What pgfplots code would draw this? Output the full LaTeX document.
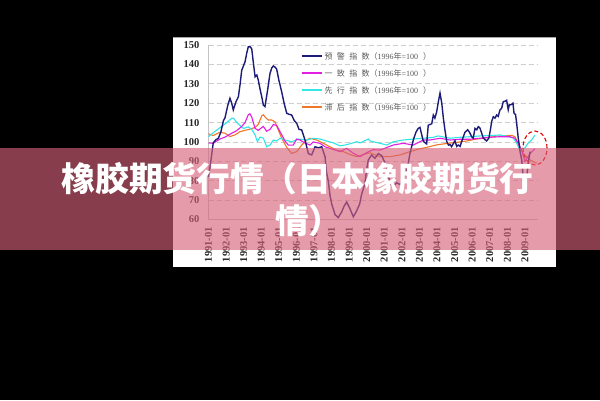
\documentclass[border=0pt]{standalone}
\usepackage{fontspec}
\setmainfont{Liberation Serif}
\newfontfamily\cjk{Noto Sans CJK SC}
\usepackage{pgfplots}
\pgfplotsset{compat=1.18}
\definecolor{navyc}{RGB}{28,28,120}
\definecolor{magc}{RGB}{225,30,225}
\definecolor{cyanc}{RGB}{50,230,230}
\definecolor{orangec}{RGB}{240,120,40}
\definecolor{bandc}{RGB}{215,98,120}
\definecolor{gridc}{RGB}{205,205,205}
\definecolor{axc}{RGB}{195,195,195}
\newcommand{\lgtext}[4]{{\cjk #1\hspace{4.3pt}#2\hspace{4.3pt}#3\hspace{4.3pt}#4（}1996{\cjk 年}=100\hspace{5pt}{\cjk ）}}
\begin{document}
\begin{tikzpicture}
\fill[black] (0pt,0pt) rectangle (600pt,400pt);
\fill[white] (173pt,133pt) rectangle (556pt,363pt);
\draw[gray!70, line width=0.8pt] (173pt,363pt) -- (556pt,363pt);
\begin{axis}[
  at={(208.5pt,180.5pt)}, anchor=south west,
  scale only axis, width=329.6pt, height=174.5pt,
  xmin=1991, xmax=2009.75, ymin=60, ymax=150,
  axis x line*=bottom, axis y line*=left,
  axis line style={axc, line width=0.6pt, -},
  major tick length=0pt,
  ytick={60,70,...,150},
  xtick={1991,...,2009},
  xticklabels={1991-01,1992-01,1993-01,1994-01,1995-01,1996-01,1997-01,1998-01,1999-01,2000-01,2001-01,2002-01,2003-01,2004-01,2005-01,2006-01,2007-01,2008-01,2009-01},
  /pgf/number format/assume math mode=true,
  ymajorgrids, grid style={gridc, dash pattern=on 5pt off 3pt, line width=0.6pt},
  yticklabel style={font=\bfseries\fontsize{10.5}{11}\selectfont, text=black!85, anchor=east, inner sep=0pt, xshift=-9pt},
  xticklabel style={font=\bfseries\fontsize{10.5}{11}\selectfont, text=black!85, rotate=90, anchor=east, inner sep=0pt},
  xticklabel shift=7.5pt,
  clip=false,
]
\addplot[orangec, line width=1.1pt] coordinates {(1991.0,104.2) (1991.27,103.3) (1991.65,105) (1991.94,104.5) (1992.22,102.8) (1992.5,103.6) (1992.79,105.3) (1993.08,106) (1993.36,106.6) (1993.65,107.5) (1993.83,109) (1994.03,113.5) (1994.12,114) (1994.21,113) (1994.4,111.3) (1994.6,111.3) (1994.78,110.4) (1994.97,106.2) (1995.16,102) (1995.45,97.2) (1995.73,94.1) (1996.02,95) (1996.3,98.4) (1996.59,101) (1996.77,101.9) (1997.15,101) (1997.53,99.3) (1997.91,97.5) (1998.29,95.8) (1998.67,95) (1999.05,93.5) (1999.43,92.4) (1999.8,93.5) (2000.19,94.4) (2000.76,92.4) (2001.32,92.4) (2001.89,93.3) (2002.46,95) (2003.03,96.5) (2003.41,97.2) (2003.98,98.5) (2004.55,99.2) (2005.12,99.8) (2005.69,100.5) (2006.26,101.5) (2006.82,102.2) (2007.39,103) (2007.96,103.2) (2008.25,103.4) (2008.43,102.7) (2008.62,99.3) (2008.82,95.5) (2008.91,94.1) (2009.29,90.7) (2009.67,89)};
\addplot[cyanc, line width=1.1pt] coordinates {(1991.0,102.7) (1991.27,104.8) (1991.75,108) (1992.04,110) (1992.32,112.2) (1992.41,112.3) (1992.5,111.3) (1992.7,109.2) (1992.98,107) (1993.08,107.2) (1993.26,107.8) (1993.46,106.5) (1993.65,103.6) (1993.78,100.2) (1993.93,102.5) (1994.12,102) (1994.31,97.5) (1994.5,98.4) (1994.69,101) (1994.88,100.5) (1995.07,101.9) (1995.35,101) (1995.73,100.1) (1996.11,101.5) (1996.59,101) (1996.96,101.9) (1997.34,101.5) (1997.72,100.5) (1998.1,99.5) (1998.48,98) (1998.76,98.4) (1999.15,99.3) (1999.43,100.1) (1999.62,99.5) (2000.09,101.5) (2000.19,100.5) (2000.76,99.3) (2001.14,98.4) (2001.51,100.1) (2002.08,101) (2002.65,101.5) (2003.22,101.9) (2003.79,102.4) (2004.07,103.1) (2004.74,101.9) (2005.31,102.4) (2005.87,102.7) (2006.44,103.1) (2007.01,103.3) (2007.58,103.6) (2007.96,103) (2008.34,102) (2008.53,99.3) (2008.72,95.8) (2009.0,96.9) (2009.19,99.5) (2009.38,101) (2009.57,103.6)};
\addplot[magc, line width=1.1pt] coordinates {(1991.0,99.5) (1991.27,99.3) (1991.65,101.5) (1991.94,102.5) (1992.32,104.5) (1992.6,105.8) (1992.89,108) (1993.08,110) (1993.26,114) (1993.36,114.5) (1993.46,112.8) (1993.65,107) (1993.83,106) (1994.12,108) (1994.31,105.5) (1994.5,106.5) (1994.69,109) (1994.88,108.5) (1995.07,105.3) (1995.35,100.5) (1995.54,98.4) (1995.82,98.4) (1996.02,101.5) (1996.2,101) (1996.49,99.5) (1996.77,98.4) (1996.96,100) (1997.34,99.3) (1997.63,97.5) (1997.91,96.7) (1998.48,95) (1998.86,96.7) (1999.24,94.1) (1999.62,92.4) (2000.0,94.5) (2000.37,96) (2000.76,95.8) (2001.51,98.4) (2002.08,99.3) (2002.65,98.4) (2003.22,101) (2003.6,101) (2004.17,101.9) (2004.74,101) (2005.31,101.4) (2005.87,101.4) (2006.44,101.9) (2007.01,102.4) (2007.58,102.7) (2008.15,102.7) (2008.43,101.9) (2008.62,99.3) (2008.82,95.5) (2009.0,90) (2009.29,94) (2009.57,96.5)};
\addplot[navyc, line width=1.4pt] coordinates {(1991.0,82) (1991.1,88) (1991.27,99.5) (1991.4,101) (1991.56,101.9) (1991.7,105) (1991.85,111) (1991.94,112.5) (1992.1,119) (1992.22,122.5) (1992.32,120) (1992.41,116.5) (1992.55,120.5) (1992.7,123.3) (1992.8,130) (1992.89,137) (1993.0,139.5) (1993.08,141.4) (1993.18,146) (1993.26,149) (1993.38,149) (1993.46,148) (1993.55,141) (1993.65,133.6) (1993.75,134.5) (1993.83,132) (1993.95,126.5) (1994.03,123.3) (1994.12,119) (1994.21,118.2) (1994.35,126) (1994.5,135.4) (1994.6,138.2) (1994.69,139.2) (1994.8,138.5) (1994.88,137.5) (1995.0,132) (1995.16,126) (1995.3,120) (1995.45,114.8) (1995.6,114.2) (1995.73,113.9) (1995.88,111) (1996.02,109.6) (1996.15,106.5) (1996.3,106.2) (1996.49,101) (1996.6,97) (1996.68,94) (1996.87,93.3) (1997.06,97.5) (1997.25,97) (1997.44,97.5) (1997.63,92.4) (1997.72,84) (1997.81,80) (1997.92,72) (1998.01,68) (1998.2,62.5) (1998.38,61) (1998.58,64) (1998.72,67) (1998.86,69) (1999.05,65.5) (1999.24,61.4) (1999.43,64.5) (1999.6,68) (1999.71,73) (1999.9,78.7) (2000.0,86) (2000.09,90.7) (2000.28,93.3) (2000.47,91.6) (2000.66,94) (2000.85,93) (2001.0,90) (2001.14,87) (2001.32,79) (2001.5,77) (2001.7,79) (2001.9,78) (2002.1,81) (2002.3,86) (2002.46,94) (2002.65,101) (2002.8,105) (2002.93,107) (2003.03,107.5) (2003.22,100.3) (2003.41,99) (2003.5,108.6) (2003.7,109.4) (2003.79,113.9) (2003.88,112.3) (2003.98,115.5) (2004.08,121) (2004.17,125.2) (2004.27,120) (2004.36,112.3) (2004.45,106.2) (2004.55,100.3) (2004.65,98.4) (2004.74,98.6) (2004.83,97.6) (2005.02,100.6) (2005.12,97.7) (2005.21,98.4) (2005.31,97.7) (2005.45,101.5) (2005.59,105) (2005.74,106.3) (2005.85,105) (2005.97,102.7) (2006.06,102) (2006.16,107) (2006.26,106.3) (2006.35,107.9) (2006.44,107.2) (2006.54,104.5) (2006.63,102) (2006.82,100.5) (2006.95,102) (2007.05,107) (2007.11,110.6) (2007.2,113) (2007.3,112.3) (2007.39,113.9) (2007.48,113.2) (2007.58,116.5) (2007.68,117.5) (2007.77,120.8) (2007.87,121) (2007.96,121.5) (2008.05,116.6) (2008.11,119.1) (2008.21,119.2) (2008.32,120) (2008.38,114.8) (2008.47,114) (2008.53,109.6) (2008.62,102) (2008.68,98.4) (2008.72,95.2) (2008.82,90.7) (2008.9,82) (2009.0,79) (2009.1,82) (2009.2,90) (2009.3,95)};
\end{axis}
% legend
\begin{scope}[font=\fontsize{8}{9}\selectfont, text=black!65]
\draw[navyc, line width=1.4pt] (301.7pt,344pt) -- (321.7pt,344pt);
\node[anchor=west, inner sep=0pt] at (324.5pt,344pt) {\lgtext{预}{警}{指}{数}};
\draw[magc, line width=1.1pt] (301.7pt,327pt) -- (321.7pt,327pt);
\node[anchor=west, inner sep=0pt] at (324.5pt,327pt) {\lgtext{一}{致}{指}{数}};
\draw[cyanc, line width=1.1pt] (301.7pt,310pt) -- (321.7pt,310pt);
\node[anchor=west, inner sep=0pt] at (324.5pt,310pt) {\lgtext{先}{行}{指}{数}};
\draw[orangec, line width=1.1pt] (301.7pt,293pt) -- (321.7pt,293pt);
\node[anchor=west, inner sep=0pt] at (324.5pt,293pt) {\lgtext{滞}{后}{指}{数}};
\end{scope}
% highlight circle
\draw[red!90!black, line width=1.1pt, dash pattern=on 4pt off 2.5pt] (535pt,252pt) ellipse (12pt and 17pt);
% overlay band
\fill[bandc, opacity=0.63] (0pt,150pt) rectangle (600pt,252pt);
\node[anchor=west, inner sep=0pt, text=white, font=\cjk\bfseries\fontsize{33.7}{36}\selectfont] at (61.5pt,221pt) {橡胶期货行情（日本橡胶期货行};
\node[anchor=west, inner sep=0pt, text=white, font=\cjk\bfseries\fontsize{33.7}{36}\selectfont] at (275pt,179pt) {情）};
\end{tikzpicture}
\end{document}
